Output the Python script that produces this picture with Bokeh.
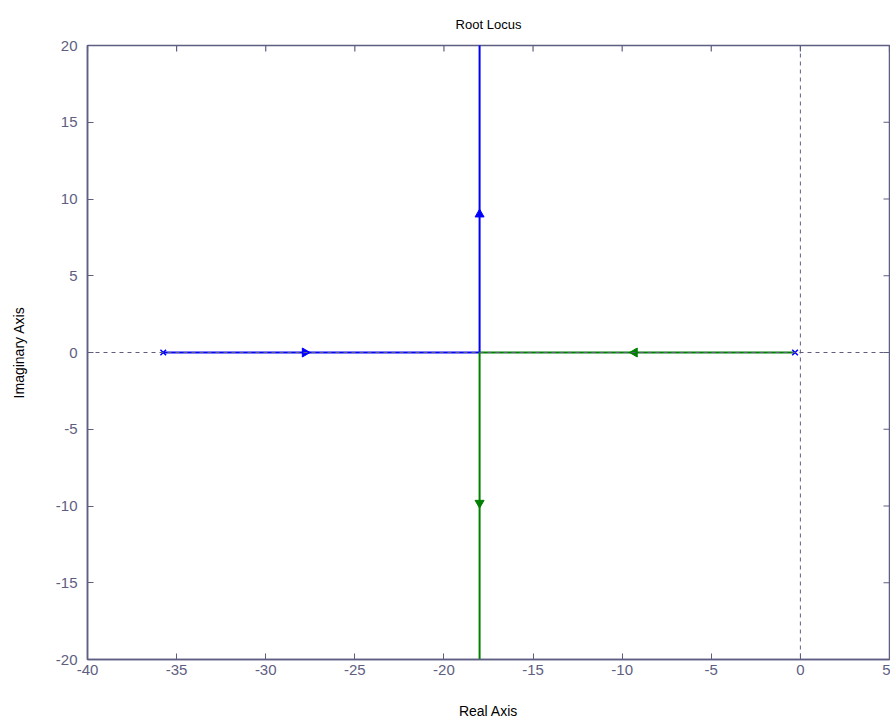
import numpy as np
from bokeh.plotting import figure
from bokeh.models import FixedTicker, Range1d, Span
from bokeh.embed import file_html
from bokeh.resources import INLINE

# Data
poles_re = [-35.75, -0.3]
poles_im = [0.0, 0.0]
blue_re = [-35.75, -18.0, -18.0]
blue_im = [0.0, 0.0, 25.0]
green_re = [-0.3, -18.0, -18.0]
green_im = [0.0, 0.0, -25.0]
blue_arrow_re = [-27.8, -18.0]
blue_arrow_im = [0.0, 9.0]
blue_arrow_ang = [-np.pi / 2, 0.0]
green_arrow_re = [-9.3, -18.0]
green_arrow_im = [0.0, -9.8]
green_arrow_ang = [np.pi / 2, np.pi]
x_ticks = [-40, -35, -30, -25, -20, -15, -10, -5, 0, 5]
y_ticks = [-20, -15, -10, -5, 0, 5, 10, 15, 20]
x_min, x_max = -40, 5
y_min, y_max = -20, 20

AX = "#5e5e82"
FONT = "Liberation Sans"

p = figure(width=890, height=721, output_backend="svg", toolbar_location=None,
           x_range=Range1d(x_min, x_max), y_range=Range1d(y_min, y_max),
           min_border_left=87, min_border_right=1, min_border_top=45, min_border_bottom=62,
           title="Root Locus", x_axis_label="Real Axis", y_axis_label="Imaginary Axis")
p.title.align = "center"
p.title.text_font = FONT
p.title.text_font_size = "13px"
p.title.text_font_style = "normal"
p.title.text_color = "#000000"
p.title.standoff = 28
p.grid.visible = False
p.outline_line_color = AX
p.outline_line_width = 1.5
p.background_fill_color = "white"
p.border_fill_color = "white"

for ax in [p.xaxis[0], p.yaxis[0]]:
    ax.axis_line_color = AX
    ax.axis_line_width = 1.5
    ax.major_tick_line_color = AX
    ax.major_tick_in = 6
    ax.major_tick_out = 0
    ax.minor_tick_line_color = None
    ax.major_label_text_color = AX
    ax.major_label_text_font = FONT
    ax.major_label_text_font_size = "15px"
    ax.axis_label_text_font = FONT
    ax.axis_label_text_font_size = "14px"
    ax.axis_label_text_font_style = "normal"
    ax.axis_label_text_color = "#000000"
p.xaxis[0].ticker = FixedTicker(ticks=x_ticks)
p.yaxis[0].ticker = FixedTicker(ticks=y_ticks)
p.xaxis[0].major_label_overrides = {t: str(t) for t in x_ticks}
p.yaxis[0].major_label_overrides = {t: str(t) for t in y_ticks}
p.xaxis[0].major_label_standoff = 5
p.yaxis[0].major_label_standoff = 10
p.xaxis[0].axis_label_standoff = 25
p.yaxis[0].axis_label_standoff = 26

# inward ticks on the top and right edges of the frame
p.scatter(x_ticks, [y_max] * len(x_ticks), marker="dash", angle=np.pi / 2, size=12,
          line_color=AX, line_width=1.2)
p.scatter([x_max] * len(y_ticks), y_ticks, marker="dash", size=12,
          line_color=AX, line_width=1.2)

p.add_layout(Span(location=0, dimension="width", line_color=AX, line_dash="4 4", line_width=1))
p.add_layout(Span(location=0, dimension="height", line_color=AX, line_dash="4 4", line_width=1))

p.line(blue_re, blue_im, line_color="#0000ff", line_width=2)
p.line(green_re, green_im, line_color="#008000", line_width=2)

p.scatter(blue_arrow_re, blue_arrow_im, marker="triangle", angle=blue_arrow_ang, size=9,
          fill_color="#0000ff", line_color="#0000ff")
p.scatter(green_arrow_re, green_arrow_im, marker="triangle", angle=green_arrow_ang, size=9,
          fill_color="#008000", line_color="#008000")
p.scatter(poles_re, poles_im, marker="x", size=8, line_color="#0000ff", line_width=1.5)

open("out.html", "w").write(file_html(p, INLINE))
